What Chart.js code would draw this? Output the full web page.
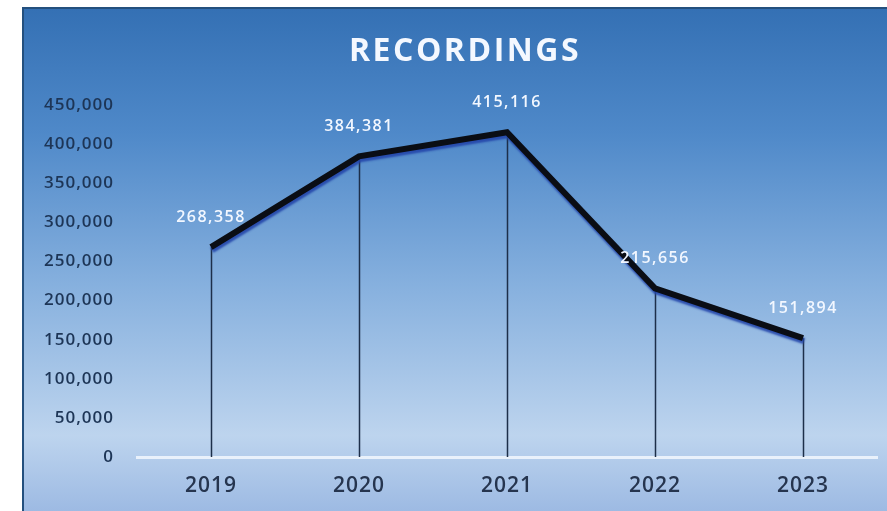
<!DOCTYPE html>
<html>
<head>
<meta charset="utf-8">
<script src="https://cdn.jsdelivr.net/npm/chart.js@4.4.0/dist/chart.umd.min.js"></script>
<style>
  html, body { margin: 0; padding: 0; background: #ffffff; }
  #wrap { width: 887px; height: 511px; position: relative; }
</style>
</head>
<body>
<div id="wrap"><canvas id="chart"></canvas></div>
<script>
// --- DATOS ---
const years = ['2019', '2020', '2021', '2022', '2023'];
const recordings = [268358, 384381, 415116, 215656, 151894];
const yTicks = [0, 50000, 100000, 150000, 200000, 250000, 300000, 350000, 400000, 450000];
const chartTitle = 'RECORDINGS';

const FONT = '"Open Sans", "DejaVu Sans", sans-serif';
const fmt = v => v.toLocaleString('en-US');

// Espaciado de letras para las etiquetas de un eje
function spaceLabels(spacing) {
    return function (scale) {
        if (scale._spaced) return;
        scale._spaced = true;
        const orig = scale.drawLabels;
        scale.drawLabels = function (area) {
            const ctx = this.ctx;
            ctx.save();
            ctx.letterSpacing = spacing;
            orig.call(this, area);
            ctx.restore();
        };
    };
}

// Fondo degradado y título
const backgroundPlugin = {
    id: 'bg',
    beforeDraw(chart) {
        const ctx = chart.ctx;
        const x0 = 23, y0 = 8, x1 = chart.width, y1 = chart.height;
        ctx.save();
        const g = ctx.createLinearGradient(0, y0, 0, y1);
        g.addColorStop(0, '#3470b4');
        g.addColorStop(0.25, '#4f89c9');
        g.addColorStop(0.55, '#86b0de');
        g.addColorStop(0.85, '#bdd4ee');
        g.addColorStop(1, '#9dbae3');
        ctx.fillStyle = g;
        ctx.fillRect(x0, y0, x1 - x0, y1 - y0);
        // borde oscuro arriba e izquierda
        ctx.strokeStyle = '#24507e';
        ctx.lineWidth = 2;
        ctx.beginPath();
        ctx.moveTo(x0, y1);
        ctx.lineTo(x0, y0);
        ctx.lineTo(x1, y0);
        ctx.stroke();
        // título
        ctx.fillStyle = '#f4f8ff';
        ctx.font = 'bold 32px ' + FONT;
        ctx.letterSpacing = '2.5px';
        ctx.textAlign = 'center';
        ctx.textBaseline = 'middle';
        ctx.fillText(chartTitle, 465, 52);
        ctx.restore();
    }
};

// Líneas verticales desde cada punto hasta el eje
const dropLinesPlugin = {
    id: 'dropLines',
    beforeDatasetsDraw(chart) {
        const ctx = chart.ctx;
        const meta = chart.getDatasetMeta(0);
        const yBase = chart.scales.y.getPixelForValue(0);
        ctx.save();
        ctx.strokeStyle = '#1d2f4a';
        ctx.lineWidth = 1.5;
        meta.data.forEach(p => {
            ctx.beginPath();
            ctx.moveTo(Math.round(p.x) + 0.5, p.y);
            ctx.lineTo(Math.round(p.x) + 0.5, yBase);
            ctx.stroke();
        });
        ctx.restore();
    },
    beforeDatasetDraw(chart) {
        const ctx = chart.ctx;
        ctx.save();
        ctx.shadowColor = 'rgba(35, 70, 170, 0.9)';
        ctx.shadowOffsetX = 1;
        ctx.shadowOffsetY = 3;
        ctx.shadowBlur = 2;
    },
    afterDatasetDraw(chart) {
        chart.ctx.restore();
    }
};

// Etiquetas de datos
const labelsPlugin = {
    id: 'valueLabels',
    afterDatasetsDraw(chart) {
        const ctx = chart.ctx;
        const meta = chart.getDatasetMeta(0);
        ctx.save();
        ctx.letterSpacing = '1.5px';
        ctx.font = '600 16px ' + FONT;
        ctx.fillStyle = '#f2f7ff';
        ctx.textAlign = 'center';
        ctx.textBaseline = 'middle';
        meta.data.forEach((p, i) => {
            ctx.fillText(fmt(recordings[i]), p.x, p.y - 30);
        });
        ctx.restore();
    }
};

new Chart(document.getElementById('chart'), {
    type: 'line',
    data: {
        labels: years,
        datasets: [{
            label: chartTitle,
            data: recordings,
            borderColor: '#0a0d14',
            borderWidth: 6,
            pointRadius: 0,
            tension: 0,
            fill: false
        }]
    },
    options: {
        responsive: true,
        maintainAspectRatio: false,
        animation: false,
        layout: { padding: { left: 23, right: 10, top: 105, bottom: 0 } },
        plugins: {
            legend: { display: false },
            title: { display: false },
            tooltip: { enabled: false }
        },
        scales: {
            x: {
                offset: true,
                grid: { display: false, drawTicks: false },
                border: { display: true, color: '#e9f1fb', width: 3 },
                ticks: {
                    color: '#26354f',
                    padding: 16,
                    font: { family: FONT, size: 21, weight: '600' }
                },
                afterFit(scale) { scale.height = 54; },
                afterUpdate: spaceLabels('1px')
            },
            y: {
                min: 0,
                max: 450000,
                afterBuildTicks(scale) {
                    scale.ticks = yTicks.map(v => ({ value: v }));
                },
                grid: { display: false, drawTicks: false },
                border: { display: false },
                ticks: {
                    color: '#1d3556',
                    padding: 23,
                    font: { family: FONT, size: 17, weight: '600' },
                    callback: v => fmt(v)
                },
                afterFit(scale) { scale.width = 114; },
                afterUpdate: spaceLabels('1px')
            }
        }
    },
    plugins: [backgroundPlugin, dropLinesPlugin, labelsPlugin]
});
</script>
</body>
</html>
